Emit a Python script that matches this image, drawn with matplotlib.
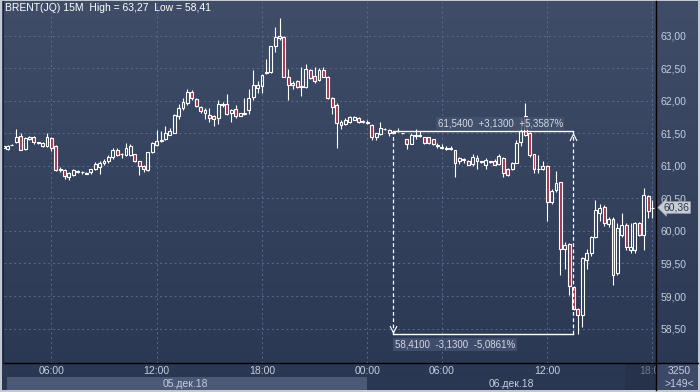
import matplotlib
matplotlib.use("Agg")
import matplotlib.pyplot as plt
import matplotlib.transforms as mtransforms
from matplotlib.colors import LinearSegmentedColormap
from matplotlib.patches import Rectangle
from matplotlib.lines import Line2D
from matplotlib.path import Path
import numpy as np

# BRENT 15M candles
opens = [61.28, 61.26, 61.32, 61.36, 61.46, 61.26, 61.41, 61.44, 61.36, 61.30,
         61.30, 61.43, 61.31, 60.96, 60.94, 60.83, 60.86, 60.91, 60.90, 60.88,
         60.90, 60.96, 60.99, 61.04, 61.07, 61.14, 61.24, 61.18, 61.17, 61.17,
         61.18, 61.07, 61.00, 60.94, 61.21, 61.32, 61.39, 61.41, 61.48, 61.51,
         61.77, 61.89, 61.96, 62.14, 62.03, 61.91, 61.81, 61.78, 61.77, 61.73,
         61.95, 61.95, 61.81, 61.87, 61.77, 61.80, 61.86, 62.06, 62.20, 62.23,
         62.43, 62.44, 62.84, 62.96, 62.98, 62.36, 62.27, 62.30, 62.21, 62.21,
         62.47, 62.38, 62.32, 62.48, 62.36, 62.04, 61.94, 61.63, 61.65, 61.67,
         61.71, 61.73, 61.69, 61.67, 61.63, 61.44, 61.49, 61.57, 61.55, 61.51,
         61.53, 61.50, 61.41, 61.34, 61.47, 61.46, 61.44, 61.44, 61.41, 61.30,
         61.29, 61.27, 61.27, 61.24, 61.07, 61.10, 61.07, 61.03, 61.12, 61.07,
         61.02, 61.07, 61.08, 61.03, 61.12, 60.96, 60.96, 61.05, 61.36, 61.76,
         61.51, 61.18, 60.96, 60.95, 61.00, 60.45, 60.63, 60.75, 59.72, 59.80,
         59.14, 58.80, 58.71, 59.56, 59.66, 59.91, 60.28, 60.37, 60.10, 60.18,
         59.35, 59.94, 60.09, 59.71, 59.70, 60.12, 59.94, 60.54, 60.36]
highs = [61.31, 61.32, 61.33, 61.56, 61.50, 61.45, 61.46, 61.46, 61.37, 61.37,
         61.50, 61.45, 61.32, 60.99, 60.95, 60.90, 60.95, 60.94, 60.92, 60.90,
         60.96, 61.06, 61.07, 61.10, 61.17, 61.28, 61.27, 61.20, 61.35, 61.33,
         61.19, 61.08, 61.02, 61.22, 61.37, 61.55, 61.53, 61.61, 61.58, 61.80,
         61.95, 62.04, 62.19, 62.17, 62.05, 61.92, 61.89, 61.89, 61.79, 62.01,
         61.98, 62.11, 61.88, 61.94, 61.82, 62.05, 62.18, 62.47, 62.30, 62.41,
         62.64, 62.85, 63.13, 63.27, 63.00, 62.49, 62.30, 62.32, 62.52, 62.57,
         62.49, 62.52, 62.51, 62.52, 62.38, 62.06, 61.96, 61.70, 61.73, 61.76,
         61.77, 61.75, 61.70, 61.70, 61.64, 61.51, 61.68, 61.59, 61.56, 61.54,
         61.59, 61.51, 61.42, 61.51, 61.56, 61.53, 61.45, 61.45, 61.42, 61.35,
         61.33, 61.31, 61.31, 61.25, 61.13, 61.12, 61.09, 61.18, 61.17, 61.08,
         61.12, 61.08, 61.10, 61.19, 61.13, 60.97, 61.06, 61.40, 61.75, 61.96,
         61.52, 61.19, 61.17, 61.07, 61.01, 60.64, 60.92, 60.76, 59.83, 59.82,
         59.15, 58.82, 59.60, 59.72, 59.92, 60.48, 60.42, 60.40, 60.22, 60.22,
         60.12, 60.28, 60.12, 60.12, 60.14, 60.14, 60.66, 60.56, 60.48]
lows = [61.24, 61.25, 61.32, 61.35, 61.24, 61.25, 61.40, 61.34, 61.33, 61.29,
        61.29, 61.23, 60.92, 60.91, 60.80, 60.79, 60.85, 60.89, 60.88, 60.87,
        60.88, 60.93, 60.87, 61.02, 61.05, 61.10, 61.15, 61.12, 61.15, 61.15,
        61.06, 60.86, 60.90, 60.92, 61.20, 61.30, 61.37, 61.40, 61.47, 61.50,
        61.72, 61.86, 61.94, 62.02, 61.90, 61.82, 61.72, 61.67, 61.61, 61.65,
        61.91, 61.78, 61.68, 61.74, 61.76, 61.78, 61.80, 62.02, 62.12, 62.12,
        62.42, 62.43, 62.75, 62.94, 62.36, 62.02, 62.19, 62.20, 62.07, 62.20,
        62.34, 62.28, 62.30, 62.36, 62.03, 61.80, 61.27, 61.56, 61.63, 61.66,
        61.70, 61.66, 61.66, 61.65, 61.40, 61.40, 61.48, 61.55, 61.46, 61.50,
        61.52, 61.49, 61.26, 61.33, 61.42, 61.44, 61.34, 61.34, 61.32, 61.27,
        61.26, 61.24, 61.24, 60.83, 61.03, 61.05, 61.01, 61.00, 60.96, 61.04,
        60.96, 61.04, 61.01, 61.01, 60.83, 60.85, 60.94, 61.04, 61.30, 61.46,
        61.14, 60.89, 60.89, 60.94, 60.16, 60.42, 60.60, 59.33, 59.41, 59.02,
        58.78, 58.41, 58.53, 59.41, 59.62, 59.89, 60.15, 60.08, 60.06, 59.17,
        59.33, 59.90, 59.70, 59.66, 59.66, 59.92, 59.70, 60.20, 60.20]
closes = [61.30, 61.31, 61.32, 61.45, 61.25, 61.43, 61.45, 61.36, 61.35, 61.35,
          61.44, 61.27, 60.94, 60.94, 60.84, 60.89, 60.94, 60.92, 60.91, 60.89,
          60.95, 61.03, 61.04, 61.08, 61.14, 61.25, 61.17, 61.19, 61.27, 61.30,
          61.07, 61.00, 60.95, 61.21, 61.35, 61.39, 61.40, 61.50, 61.53, 61.78,
          61.89, 61.99, 62.14, 62.04, 61.92, 61.84, 61.86, 61.73, 61.72, 61.95,
          61.94, 61.80, 61.86, 61.76, 61.81, 61.82, 62.04, 62.25, 62.25, 62.40,
          62.45, 62.84, 62.98, 63.00, 62.37, 62.25, 62.25, 62.22, 62.23, 62.49,
          62.35, 62.31, 62.47, 62.37, 62.04, 61.91, 61.66, 61.68, 61.71, 61.75,
          61.75, 61.67, 61.68, 61.66, 61.44, 61.50, 61.58, 61.56, 61.50, 61.52,
          61.54, 61.50, 61.34, 61.48, 61.46, 61.47, 61.35, 61.35, 61.34, 61.32,
          61.28, 61.26, 61.26, 61.05, 61.12, 61.09, 61.02, 61.14, 61.07, 61.06,
          61.09, 61.06, 61.02, 61.15, 60.89, 60.86, 61.05, 61.35, 61.53, 61.48,
          61.17, 60.95, 60.95, 61.00, 60.44, 60.62, 60.74, 59.73, 59.78, 59.15,
          58.80, 58.71, 59.58, 59.66, 59.90, 60.32, 60.35, 60.12, 60.18, 59.32,
          60.05, 60.09, 59.76, 59.76, 60.12, 59.94, 60.55, 60.31, 60.36]

time_pos = [11, 35, 59, 83, 100, 124, 148]
time_labels = ["06:00", "12:00", "18:00", "00:00", "06:00", "12:00", "18:00"]
price_ticks = [58.5, 59.0, 59.5, 60.0, 60.5, 61.0, 61.5, 62.0, 62.5, 63.0]
day_labels = ["05.дек.18", "06.дек.18"]
day_break = 83
title = "BRENT(JQ) 15M  High = 63,27  Low = 58,41"
meas_hi, meas_lo = 61.54, 58.41
meas_start, meas_end = 88.9, 129.9
meas_top_text = "61,5400  +3,1300  +5,3587%"
meas_bot_text = "58,4100  -3,1300  -5,0861%"
last_price = 60.36
corner_top, corner_bot = "3250", ">149<"

W, H = 700, 392
LBL = "#c6cedc"
plt.rcParams["font.family"] = ["Liberation Sans", "DejaVu Sans"]
fig = plt.figure(figsize=(7, 3.92), dpi=100, facecolor="#c4c8cf")


def box(x0, y0, x1, y1):
    # pixel box (origin top-left) -> figure rect
    return [x0 / W, 1 - y1 / H, (x1 - x0) / W, (y1 - y0) / H]


# gradient background
bg = fig.add_axes(box(2, 1, 698, 390))
grad = np.linspace(0, 1, 256).reshape(-1, 1)
cmap = LinearSegmentedColormap.from_list("bg", ["#404d69", "#2a3753"])
bg.imshow(grad, aspect="auto", cmap=cmap, extent=[0, 1, 0, 1])
bg.axis("off")

ax = fig.add_axes(box(4, 2, 656, 363))
ax.set_facecolor("none")

o, h, l, c = (np.array(v) for v in (opens, highs, lows, closes))
x = np.arange(len(o))
top = np.maximum(o, c)
bot = np.minimum(o, c)
up = c >= o
ax.vlines(x, top, h, color="white", lw=0.8, zorder=3)
ax.vlines(x, l, bot, color="white", lw=0.8, zorder=3)
ax.bar(x, top - bot, bottom=bot, width=0.66,
       color=["none" if u else "#a8304c" for u in up],
       edgecolor="white", linewidth=0.8, zorder=4)

ax.set_xlim(0.2, 148.8)
ax.set_ylim(57.97, 63.52)
ax.set_xticks(time_pos)
ax.set_xticklabels([])
ax.set_yticks(price_ticks)
ax.set_yticklabels([f"{v:.2f}".replace(".", ",") for v in price_ticks])
ax.yaxis.tick_right()
ax.tick_params(axis="y", length=0, pad=3, labelsize=7.5, labelcolor=LBL)
ax.tick_params(axis="x", length=0)
ax.grid(True, color="#5a6a8c", ls=(0, (2, 3)), lw=0.7)
for s in ax.spines.values():
    s.set_visible(False)

# measuring tool
ax.plot([meas_start, meas_end], [meas_hi, meas_hi], color="white", lw=1, zorder=5)
ax.plot([meas_start, meas_end], [meas_lo, meas_lo], color="white", lw=1, zorder=5)
ax.vlines([meas_start, meas_end], meas_lo, meas_hi, colors="white",
          linestyles=(0, (3, 2)), lw=0.9, zorder=5)
chev_up = Path([(-1, -1), (0, 1), (1, -1)], [Path.MOVETO, Path.LINETO, Path.LINETO])
chev_dn = Path([(-1, 1), (0, -1), (1, 1)], [Path.MOVETO, Path.LINETO, Path.LINETO])
ax.plot([meas_end], [meas_hi - 0.09], marker=chev_up, ms=5, mfc="none",
        mec="white", mew=0.8, zorder=5)
ax.plot([meas_start], [meas_lo + 0.09], marker=chev_dn, ms=5, mfc="none",
        mec="white", mew=0.8, zorder=5)
ax.text(meas_end - 2.3, meas_hi + 0.11, meas_top_text, ha="right", va="center",
        fontsize=7, color="#d3d8e2", zorder=6,
        bbox=dict(boxstyle="square,pad=0.15", fc="#46536f", ec="none", alpha=0.85))
ax.text(meas_start + 0.4, meas_lo - 0.15, meas_bot_text, ha="left", va="center",
        fontsize=7, color="#d3d8e2", zorder=6,
        bbox=dict(boxstyle="square,pad=0.15", fc="#3f4c6b", ec="none"))

# last price tag
trans = mtransforms.blended_transform_factory(ax.transAxes, ax.transData)
ax.text(1.012, last_price, f"{last_price:.2f}".replace(".", ","), transform=trans,
        ha="left", va="center", fontsize=7.5, color="#2c374e", clip_on=False, zorder=7,
        bbox=dict(boxstyle="larrow,pad=0.08", fc="#c8ccd3", ec="#9aa1ad", lw=0.5))

# bottom time axis
bx = fig.add_axes(box(4, 363, 656, 390), sharex=ax)
bx.set_facecolor("#3b4867")
bx.set_ylim(0, 1)
bx.axis("off")
bx.add_patch(Rectangle((0.9, 0.0), day_break - 0.9, 0.48, fc="#4b5977", ec="none"))
bx.add_patch(Rectangle((141.7, 0.0), 10, 0.95, fc="#26324a", ec="none"))
x0, x1 = ax.get_xlim()
for p, lab in zip(time_pos, time_labels):
    col = "#6e7a90" if p == time_pos[-1] else LBL
    bx.text(p, 0.70, lab, ha="center", va="center", fontsize=7.5, color=col, clip_on=True)
for (a, b), lab in zip([(x0, day_break), (day_break, x1)], day_labels):
    bx.text((a + b) / 2, 0.24, lab, ha="center", va="center", fontsize=7.5, color=LBL)

# corner box + frame lines
fig.add_artist(Rectangle((656 / W, 2 / H), 42 / W, 27 / H, transform=fig.transFigure,
                         fc="#3b4867", ec="none"))
fig.text(679 / W, 1 - 371 / H, corner_top, ha="center", va="center", fontsize=7.5, color=LBL)
fig.text(679 / W, 1 - 384 / H, corner_bot, ha="center", va="center", fontsize=7.5, color=LBL)
fig.add_artist(Line2D([656 / W, 656 / W], [2 / H, 1 - 1 / H], transform=fig.transFigure,
                      color="black", lw=1))
fig.add_artist(Line2D([3 / W, 698 / W], [1 - 363 / H, 1 - 363 / H],
                      transform=fig.transFigure, color="black", lw=1))
fig.add_artist(Line2D([3 / W, 3 / W], [1 - 363 / H, 1 - 1 / H],
                      transform=fig.transFigure, color="#1c2536", lw=0.8))

fig.text(5 / W, 1 - 8 / H, title, ha="left", va="center", fontsize=7.5, color="white")

fig.savefig("out.png", dpi=100, facecolor=fig.get_facecolor())
